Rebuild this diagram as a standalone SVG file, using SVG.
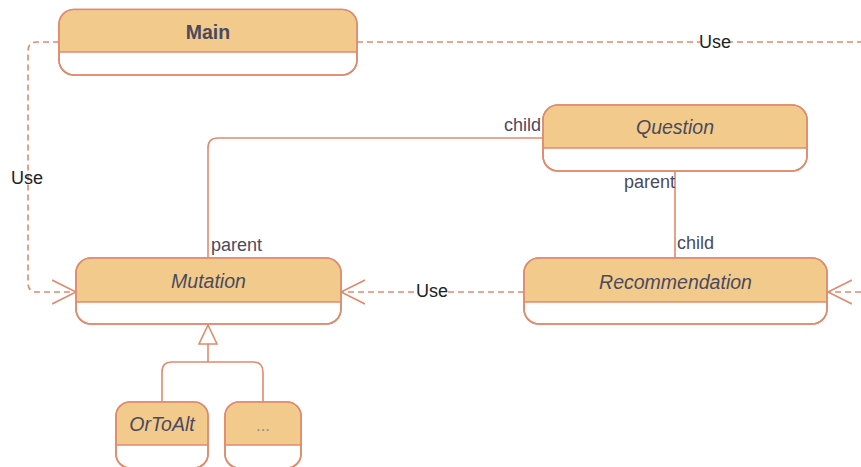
<svg xmlns="http://www.w3.org/2000/svg" width="861" height="467" viewBox="0 0 861 467">
<defs>
<style>
.box{fill:#fff;stroke:#E08A6E;stroke-width:1.6}
.hdr{fill:#F2CB8C}
.sep{stroke:#E08A6E;stroke-width:1.6}
.nl{font-family:"Liberation Sans",Arial,sans-serif;font-size:19.5px;fill:#4A4A5E;text-anchor:middle}
.it{font-style:italic}
.lbl{font-family:"Liberation Sans",Arial,sans-serif;font-size:18px;fill:#4A4A5E}
.use{font-family:"Liberation Sans",Arial,sans-serif;font-size:18px;fill:#222}
.dash{fill:none;stroke:#E08A6E;stroke-width:1.6;stroke-dasharray:6 4}
.solid{fill:none;stroke:#E08A6E;stroke-width:1.6}
</style>
<marker id="open" markerWidth="26" markerHeight="28" refX="24" refY="13" orient="auto" markerUnits="userSpaceOnUse">
<path d="M0,1 L24,13 L0,25" fill="none" stroke="#E08A6E" stroke-width="1.6"/>
</marker>
</defs>
<rect width="861" height="467" fill="#fff"/>
<g id="connectors">
<path class="dash" d="M59,42 H37 Q28,42 28,51 V283 Q28,292 37,292 H76" marker-end="url(#open)"/>
<path class="dash" d="M357,42 H861"/>
<path class="dash" d="M861,292 H828" marker-end="url(#open)"/>
<path class="dash" d="M524,292 H341" marker-end="url(#open)"/>
<path class="solid" d="M543,138 H218 Q208,138 208,148 V258"/>
<path class="solid" d="M675,171 V258"/>
<path class="solid" d="M162,402 V372 Q162,362 172,362 H253 Q263,362 263,372 V402 M208,362 V344"/>
<path d="M208,325 L217,344 L199,344 Z" fill="#fff" stroke="#E08A6E" stroke-width="1.6"/>
<rect x="700" y="34" width="30" height="16" fill="#fff"/>
<text class="use" x="699" y="48">Use</text>
<rect x="13" y="170" width="30" height="16" fill="#fff" opacity="0"/>
<text class="use" x="11" y="184">Use</text>
<rect x="416" y="284" width="31" height="16" fill="#fff"/>
<text class="use" x="416" y="297">Use</text>
<text class="lbl" x="504" y="131">child</text>
<text class="lbl" x="624" y="188">parent</text>
<text class="lbl" x="211" y="251">parent</text>
<text class="lbl" x="677" y="249">child</text>
</g>
<g id="main">
<rect class="box" x="59" y="9.5" width="298" height="65.5" rx="15"/>
<path class="hdr" d="M74,10.3 H342 A14.2,14.2 0 0 1 356.2,24.5 V52 H59.8 V24.5 A14.2,14.2 0 0 1 74,10.3 Z"/>
<line class="sep" x1="59" y1="52" x2="357" y2="52"/>
<rect class="box" x="59" y="9.5" width="298" height="65.5" rx="15" fill="none" style="fill:none"/>
<text class="nl" x="208" y="39" font-weight="bold">Main</text>
</g>
<g id="question">
<rect class="box" x="543" y="105" width="264" height="66" rx="15"/>
<path class="hdr" d="M558,105.8 H792 A14.2,14.2 0 0 1 806.2,120 V148 H543.8 V120 A14.2,14.2 0 0 1 558,105.8 Z"/>
<line class="sep" x1="543" y1="148" x2="807" y2="148"/>
<rect class="box" x="543" y="105" width="264" height="66" rx="15" style="fill:none"/>
<text class="nl it" x="675" y="134">Question</text>
</g>
<g id="mutation">
<rect class="box" x="76" y="258" width="265" height="66" rx="15"/>
<path class="hdr" d="M91,258.8 H326 A14.2,14.2 0 0 1 340.2,273 V302 H76.8 V273 A14.2,14.2 0 0 1 91,258.8 Z"/>
<line class="sep" x1="76" y1="302" x2="341" y2="302"/>
<rect class="box" x="76" y="258" width="265" height="66" rx="15" style="fill:none"/>
<text class="nl it" x="208.5" y="288">Mutation</text>
</g>
<g id="recommendation">
<rect class="box" x="524" y="258" width="303" height="66" rx="15"/>
<path class="hdr" d="M539,258.8 H812 A14.2,14.2 0 0 1 826.2,273 V302 H524.8 V273 A14.2,14.2 0 0 1 539,258.8 Z"/>
<line class="sep" x1="524" y1="302" x2="827" y2="302"/>
<rect class="box" x="524" y="258" width="303" height="66" rx="15" style="fill:none"/>
<text class="nl it" x="675.5" y="289">Recommendation</text>
</g>
<g id="ortoalt">
<rect class="box" x="116" y="402" width="92" height="66" rx="14"/>
<path class="hdr" d="M130,402.8 H194 A13.2,13.2 0 0 1 207.2,416 V445 H116.8 V416 A13.2,13.2 0 0 1 130,402.8 Z"/>
<line class="sep" x1="116" y1="445" x2="208" y2="445"/>
<rect class="box" x="116" y="402" width="92" height="66" rx="14" style="fill:none"/>
<text class="nl it" x="162" y="431">OrToAlt</text>
</g>
<g id="more">
<rect class="box" x="225" y="402" width="76" height="66" rx="14"/>
<path class="hdr" d="M239,402.8 H287 A13.2,13.2 0 0 1 300.2,416 V445 H225.8 V416 A13.2,13.2 0 0 1 239,402.8 Z"/>
<line class="sep" x1="225" y1="445" x2="301" y2="445"/>
<rect class="box" x="225" y="402" width="76" height="66" rx="14" style="fill:none"/>
<text class="nl" x="263" y="431" style="fill:#8a8a8a;font-size:17px">...</text>
</g>
</svg>
